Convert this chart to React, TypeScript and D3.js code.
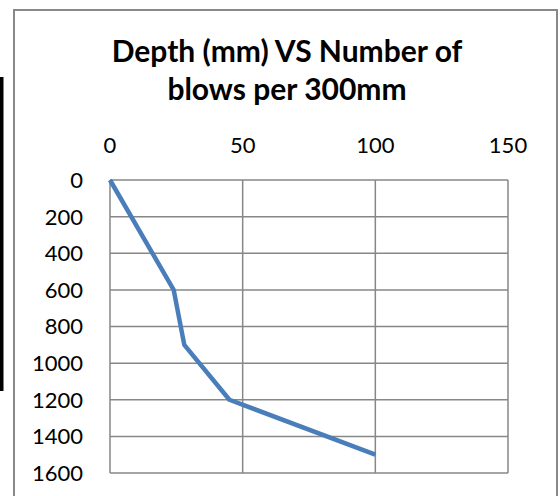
import React from "react";
import * as d3 from "d3";

const blows = [0, 24, 28, 45, 100];
const depths = [0, 600, 900, 1200, 1500];
const xTicks = [0, 50, 100, 150];
const yTicks = [0, 200, 400, 600, 800, 1000, 1200, 1400, 1600];
const titleLines = ["Depth (mm) VS Number of", "blows per 300mm"];

export default function App() {
  const W = 560, H = 496;
  const left = 110, right = 508, top = 180, bottom = 473;
  const x = d3.scaleLinear().domain([0, 150]).range([left, right]);
  const y = d3.scaleLinear().domain([0, 1600]).range([top, bottom]);
  const pts = blows.map((b, i) => [b, depths[i]] as [number, number]);
  const line = d3.line<[number, number]>().x(d => x(d[0])).y(d => y(d[1]));
  const font = "Lato, 'Open Sans', sans-serif";
  const grid = "#878787";
  return (
    <svg width={W} height={H} style={{ position: "absolute", left: 0, top: 0, background: "#fff" }}>
      <rect x={0} y={0} width={W} height={H} fill="#fff" />
      <rect x={0} y={77} width={3.5} height={314} fill="#000" />
      <rect x={14} y={10} width={543} height={500} fill="none" stroke="#898989" strokeWidth={2} />
      {titleLines.map((t, i) => (
        <text key={t} x={287} y={62 + i * 38} textAnchor="middle" fontFamily={font} fontWeight="bold" fontSize={30} fill="#000">{t}</text>
      ))}
      {yTicks.map(t => (
        <line key={"h" + t} x1={left} x2={right} y1={y(t)} y2={y(t)} stroke={grid} strokeWidth={1.5} />
      ))}
      {xTicks.map(t => (
        <line key={"v" + t} x1={x(t)} x2={x(t)} y1={top} y2={bottom} stroke={grid} strokeWidth={1.5} />
      ))}
      {xTicks.map(t => (
        <text key={"xl" + t} x={x(t)} y={153} textAnchor="middle" fontFamily={font} fontSize={22} fill="#000">{t}</text>
      ))}
      {yTicks.map(t => (
        <text key={"yl" + t} x={83} y={y(t)} dy="0.36em" textAnchor="end" fontFamily={font} fontSize={22} fill="#000">{t}</text>
      ))}
      <path d={line(pts) || ""} fill="none" stroke="#4A7EBB" strokeWidth={4.5} strokeLinejoin="round" />
    </svg>
  );
}
